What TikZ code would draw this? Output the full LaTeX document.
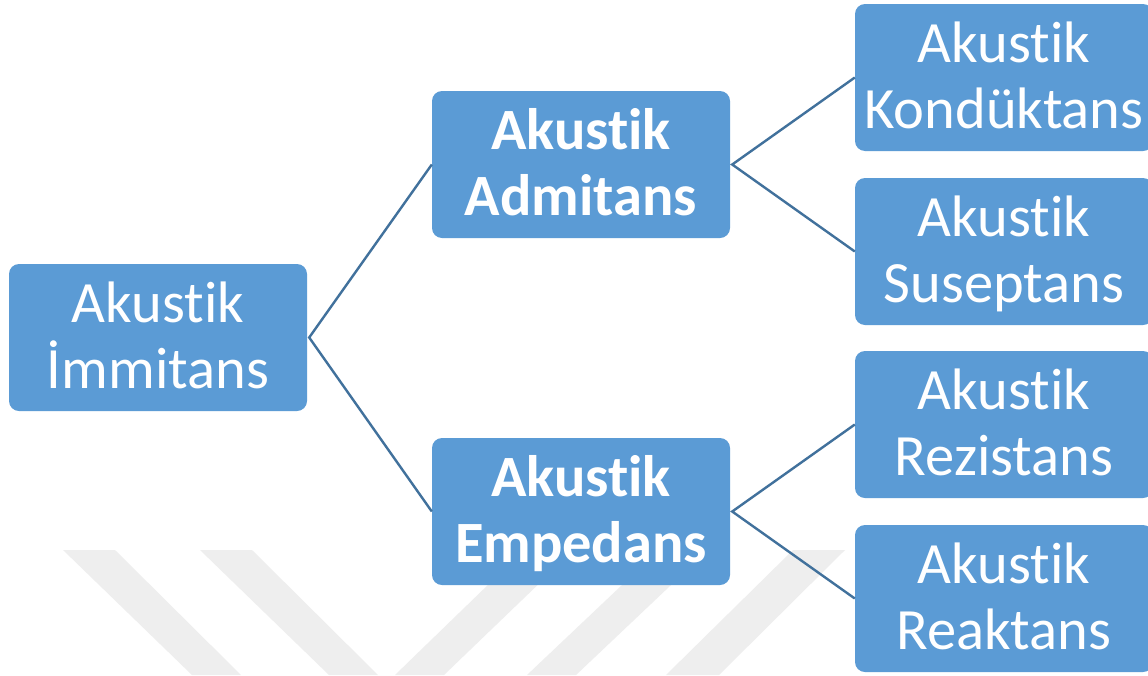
\documentclass[tikz,border=0pt]{standalone}
\usepackage{fontspec}
\setmainfont[Ligatures=NoCommon]{Carlito}
\definecolor{boxblue}{HTML}{5B9BD5}
\definecolor{lineblue}{HTML}{41719C}
\definecolor{wmgray}{HTML}{EEEEEE}
\newcommand{\lstr}{\rule[-15pt]{0pt}{65pt}}
\begin{document}
\begin{tikzpicture}[x=1pt,y=-1pt,
  box/.style={fill=boxblue, rounded corners=10pt, minimum width=298pt, minimum height=147pt,
    inner sep=0pt, align=center, text=white, font=\fontsize{58.5}{64}\selectfont},
  bbox/.style={box, font=\fontsize{58.5}{64}\selectfont\bfseries},
  conn/.style={draw=lineblue, line width=2.4pt},
  wm/.style={fill=wmgray, draw=none}]
\useasboundingbox (0,0) rectangle (1148,675);
\fill[white] (0,0) rectangle (1148,675);
% watermark stripes
\fill[wm] (63,550) -- (115,550) -- (241,675) -- (192,675) -- cycle;
\fill[wm] (200,550) -- (252,550) -- (378,675) -- (329,675) -- cycle;
\fill[wm] (524,550) -- (574,550) -- (444,675) -- (395,675) -- cycle;
\fill[wm] (659,550) -- (708,550) -- (576,675) -- (527,675) -- cycle;
\fill[wm] (793,550) -- (845,550) -- (719,675) -- (666,675) -- cycle;
% nodes
\node[box] (root) at (158,337.5) {\lstr Akustik\\\lstr İmmitans};
\node[bbox] (adm) at (581,164.5) {\lstr Akustik\\\lstr Admitans};
\node[bbox] (emp) at (581,511.5) {\lstr Akustik\\\lstr Empedans};
\node[box] (kon) at (1004,77.5) {\lstr Akustik\\\lstr Kondüktans};
\node[box] (sus) at (1004,251.5) {\lstr Akustik\\\lstr Suseptans};
\node[box] (rez) at (1004,424.5) {\lstr Akustik\\\lstr Rezistans};
\node[box] (rea) at (1004,598.5) {\lstr Akustik\\\lstr Reaktans};
% connectors
\draw[conn] (adm.west) -- ([xshift=2pt]root.east) -- (emp.west);
\draw[conn] (kon.west) -- ([xshift=2pt]adm.east) -- (sus.west);
\draw[conn] (rez.west) -- ([xshift=2pt]emp.east) -- (rea.west);
\end{tikzpicture}
\end{document}
